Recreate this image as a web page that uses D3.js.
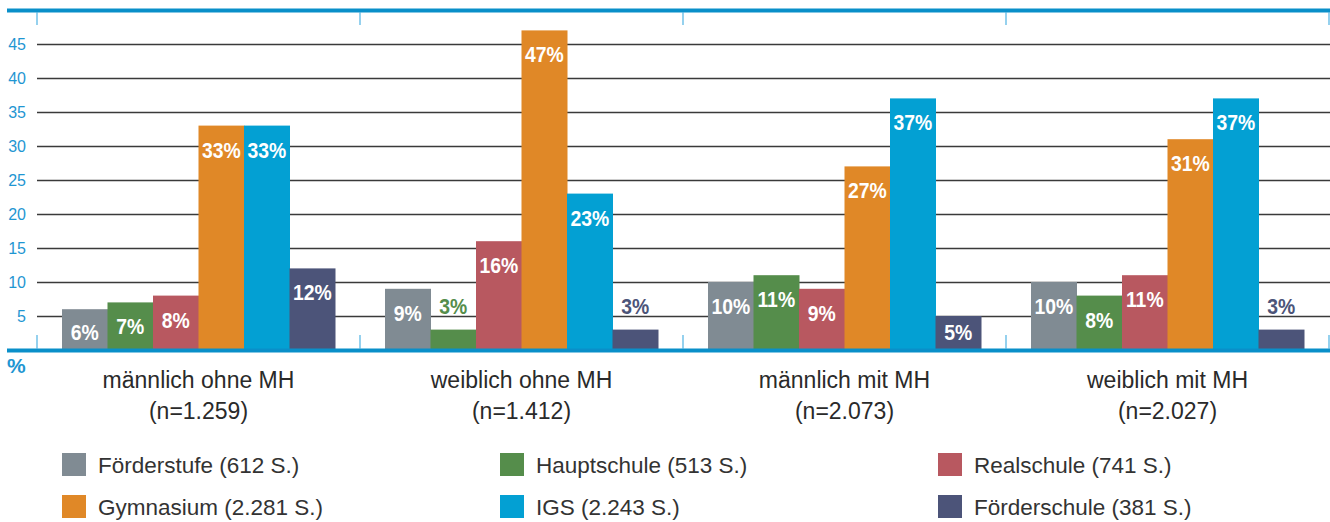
<!DOCTYPE html>
<html>
<head>
<meta charset="utf-8">
<script src="https://cdn.jsdelivr.net/npm/d3@7"></script>
<style>
	body { margin: 0; background: #fff; }
	svg { display: block; }
	text { font-family: "Liberation Sans", Arial, sans-serif; }
	.bar-label { font-weight: bold; }
</style>
</head>
<body>
<script>
// groups along the x axis
var categories = ["männlich ohne MH", "weiblich ohne MH", "männlich mit MH", "weiblich mit MH"];
var sampleSizes = ["(n=1.259)", "(n=1.412)", "(n=2.073)", "(n=2.027)"];

// school types (series)
var schoolTypes = ["Förderstufe (612 S.)", "Hauptschule (513 S.)", "Realschule (741 S.)",
				   "Gymnasium (2.281 S.)", "IGS (2.243 S.)", "Förderschule (381 S.)"];
var schoolColors = ["#808b93", "#558d4b", "#b85860", "#e08827", "#03a0d3", "#4c5479"];

// percentages per school type, one value per group
var foerderstufe = [6, 9, 10, 10];
var hauptschule = [7, 3, 11, 8];
var realschule = [8, 16, 9, 11];
var gymnasium = [33, 47, 27, 31];
var igs = [33, 23, 37, 37];
var foerderschule = [12, 3, 5, 3];

var yTicks = [5, 10, 15, 20, 25, 30, 35, 40, 45];

var seriesValues = [foerderstufe, hauptschule, realschule, gymnasium, igs, foerderschule];

var width = 1330,
	height = 522;

var svg = d3.select("body").append("svg")
	.attr("width", width)
	.attr("height", height);

var x0 = d3.scaleBand()
	.domain(categories)
	.range([37, 1329]);

var x1 = d3.scaleBand()
	.domain(d3.range(schoolTypes.length))
	.range([25, x0.bandwidth() - 25]);

var y = d3.scaleLinear()
	.domain([0, 50])
	.range([350, 10]);

var color = d3.scaleOrdinal()
	.domain(d3.range(schoolTypes.length))
	.range(schoolColors);

// gridlines
var grid = svg.append("g")
	.attr("transform", "translate(37,0)")
	.call(d3.axisLeft(y).tickValues(yTicks).tickSize(-(width - 37)).tickFormat(""));
grid.select(".domain").remove();
grid.selectAll(".tick line")
	.attr("stroke", "#3a3a3a")
	.attr("stroke-width", 1.3);

// y labels
var yLabels = svg.append("g")
	.attr("transform", "translate(26,0)")
	.call(d3.axisLeft(y).tickValues(yTicks).tickSize(0).tickPadding(0));
yLabels.select(".domain").remove();
yLabels.selectAll("text")
	.attr("fill", "#1f96d2")
	.attr("font-size", "16px")
	.attr("font-family", "Liberation Sans, Arial, sans-serif");

// bars
var rows = [];
for(var c = 0; c < categories.length; c++) {
	for(var s = 0; s < seriesValues.length; s++) {
		rows.push({ cat: categories[c], s: s, value: seriesValues[s][c] });
	}
}

var bars = svg.append("g").selectAll("g")
	.data(rows)
	.enter().append("g")
	.attr("transform", function(d) { return "translate(" + x0(d.cat) + ",0)"; });

bars.append("rect")
	.attr("x", function(d) { return x1(d.s); })
	.attr("y", function(d) { return y(d.value); })
	.attr("width", x1.bandwidth() + 0.5)
	.attr("height", function(d) { return y(0) - y(d.value); })
	.attr("fill", function(d) { return color(d.s); });

// labels are squeezed a bit to look like the condensed original font
bars.append("text")
	.attr("class", "bar-label")
	.attr("transform", function(d) {
		var lx = x1(d.s) + x1.bandwidth() / 2;
		// tiny bars get their label on top
		var ly = d.value <= 3 ? y(d.value) - 16 : Math.min(y(d.value) + 32, 340);
		return "translate(" + lx + "," + ly + ") scale(0.88,1)";
	})
	.attr("text-anchor", "middle")
	.attr("font-size", "22px")
	.attr("fill", function(d) { return d.value <= 3 ? color(d.s) : "#fff"; })
	.text(function(d) { return d.value + "%"; });

// blue frame lines
svg.append("rect").attr("x", 7).attr("y", 8.5).attr("width", width - 7).attr("height", 4).attr("fill", "#0a8fc9");
svg.append("rect").attr("x", 7).attr("y", 348.5).attr("width", width - 7).attr("height", 4).attr("fill", "#0a8fc9");

// group separator ticks
var sepX = [37].concat(categories.map(function(c) { return x0(c) + x0.bandwidth(); }));
svg.append("g").selectAll("line")
	.data(sepX)
	.enter().append("line")
	.attr("x1", function(d) { return d; })
	.attr("x2", function(d) { return d; })
	.attr("y1", 12)
	.attr("y2", 25)
	.attr("stroke", "#4fb3e3")
	.attr("stroke-width", 1.2);
svg.append("g").selectAll("line")
	.data(sepX)
	.enter().append("line")
	.attr("x1", function(d) { return d; })
	.attr("x2", function(d) { return d; })
	.attr("y1", 335)
	.attr("y2", 349)
	.attr("stroke", "#4fb3e3")
	.attr("stroke-width", 1.2);

svg.append("text")
	.attr("x", 7)
	.attr("y", 373)
	.attr("fill", "#1f96d2")
	.attr("font-size", "21px")
	.attr("font-weight", "bold")
	.text("%");

// category labels
var catLabels = svg.append("g").selectAll("text")
	.data(categories)
	.enter().append("text")
	.attr("x", function(d) { return x0(d) + x0.bandwidth() / 2; })
	.attr("y", 388)
	.attr("text-anchor", "middle")
	.attr("font-size", "23px")
	.attr("fill", "#2a2a2a");
catLabels.append("tspan")
	.text(function(d) { return d; });
catLabels.append("tspan")
	.attr("x", function(d) { return x0(d) + x0.bandwidth() / 2; })
	.attr("dy", 31)
	.text(function(d, i) { return sampleSizes[i]; });

// legend
var legend = svg.append("g").selectAll("g")
	.data(schoolTypes)
	.enter().append("g")
	.attr("transform", function(d, i) {
		return "translate(" + (62 + (i % 3) * 438) + "," + (453 + Math.floor(i / 3) * 42) + ")";
	});

legend.append("rect")
	.attr("width", 24)
	.attr("height", 23)
	.attr("fill", function(d, i) { return color(i); });

legend.append("text")
	.attr("x", 36)
	.attr("y", 20)
	.attr("font-size", "22.5px")
	.attr("fill", "#333")
	.text(function(d) { return d; });
</script>
</body>
</html>
